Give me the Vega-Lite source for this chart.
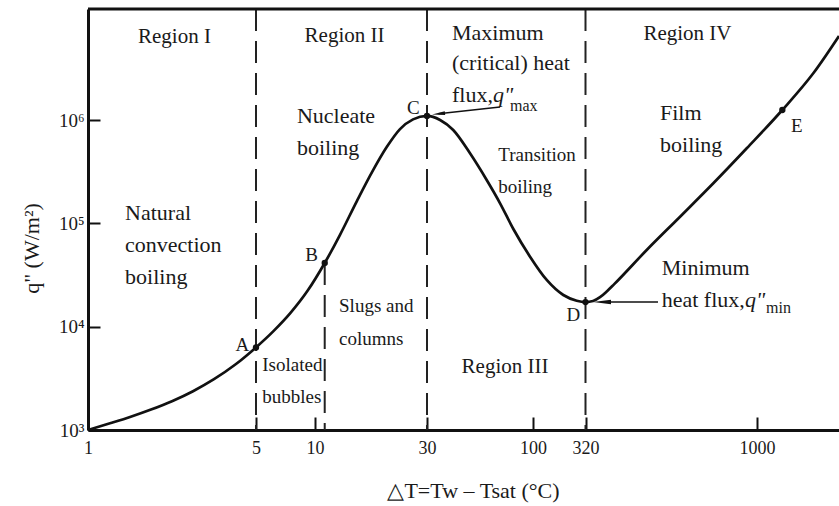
{
  "$schema": "https://vega.github.io/schema/vega-lite/v6.json",
  "width": 751,
  "height": 421,
  "autosize": {"type": "none"},
  "padding": {"left": 88, "top": 9, "right": 0, "bottom": 76},
  "background": "white",
  "config": {
    "view": {"stroke": null},
    "font": "Liberation Serif",
    "text": {"font": "Liberation Serif", "color": "#1a1a1a"}
  },
  "datasets": {
    "curve": [
      {"dT": 1, "q": 1000},
      {"dT": 1.235, "q": 1161},
      {"dT": 1.496, "q": 1336},
      {"dT": 1.829, "q": 1576},
      {"dT": 2.236, "q": 1900},
      {"dT": 2.735, "q": 2375},
      {"dT": 3.344, "q": 3101},
      {"dT": 4.089, "q": 4276},
      {"dT": 5, "q": 6300},
      {"dT": 6.12, "q": 9000},
      {"dT": 7.5, "q": 13590},
      {"dT": 9.18, "q": 22340},
      {"dT": 11, "q": 41300},
      {"dT": 12.78, "q": 77450},
      {"dT": 15.1, "q": 165300},
      {"dT": 17.66, "q": 325300},
      {"dT": 20.27, "q": 552800},
      {"dT": 23.02, "q": 816600},
      {"dT": 26.16, "q": 1013700},
      {"dT": 30, "q": 1094000},
      {"dT": 34.8, "q": 1000000},
      {"dT": 40.4, "q": 800000},
      {"dT": 48.9, "q": 476000},
      {"dT": 59.1, "q": 262600},
      {"dT": 68.8, "q": 156300},
      {"dT": 80.0, "q": 88130},
      {"dT": 96.7, "q": 47550},
      {"dT": 135.5, "q": 28300},
      {"dT": 195.7, "q": 20250},
      {"dT": 263.4, "q": 17840},
      {"dT": 320, "q": 17300},
      {"dT": 336.4, "q": 17720},
      {"dT": 352.4, "q": 19290},
      {"dT": 369.2, "q": 22040},
      {"dT": 386.7, "q": 25650},
      {"dT": 480.6, "q": 55210},
      {"dT": 599.8, "q": 115900},
      {"dT": 748.1, "q": 244100},
      {"dT": 934.1, "q": 532500},
      {"dT": 1199, "q": 1250000},
      {"dT": 1497, "q": 2831000},
      {"dT": 1800, "q": 6500000}
    ],
    "dashes": [
      {"dT": 5, "q": 11865000, "q2": 1000},
      {"dT": 11, "q": 41300, "q2": 1000},
      {"dT": 30, "q": 11865000, "q2": 1000},
      {"dT": 320, "q": 11865000, "q2": 1000}
    ],
    "frame": [{"dT": 1, "dT2": 1800, "q": 11865000}],
    "points": [
      {"dT": 5, "q": 6300},
      {"dT": 11, "q": 41300},
      {"dT": 30, "q": 1094000},
      {"dT": 320, "q": 17300},
      {"dT": 1199, "q": 1250000}
    ],
    "pointLabels": [
      {"dT": 4.385, "q": 6646, "label": "A"},
      {"dT": 9.62, "q": 49390, "label": "B"},
      {"dT": 26.24, "q": 1298000, "label": "C"},
      {"dT": 244.3, "q": 12970, "label": "D"},
      {"dT": 1329, "q": 875000, "label": "E"}
    ],
    "regions": [
      {"dT": 2.29, "q": 6360000, "label": "Region I"},
      {"dT": 13.36, "q": 6500000, "label": "Region II"},
      {"dT": 72.8, "q": 4071, "label": "Region III"},
      {"dT": 630, "q": 6800000, "label": "Region IV"}
    ],
    "bigText": [
      {"dT": 39.85, "q": 6950000, "label": "Maximum"},
      {"dT": 39.85, "q": 3560000, "label": "(critical) heat"},
      {"dT": 39.85, "q": 1746000, "label": "flux,"},
      {"dT": 8.09, "q": 1094000, "label": "Nucleate"},
      {"dT": 8.09, "q": 536000, "label": "boiling"},
      {"dT": 1.426, "q": 125900, "label": "Natural"},
      {"dT": 1.426, "q": 61700, "label": "convection"},
      {"dT": 1.426, "q": 30300, "label": "boiling"},
      {"dT": 525, "q": 1161000, "label": "Film"},
      {"dT": 525, "q": 573000, "label": "boiling"},
      {"dT": 531, "q": 36720, "label": "Minimum"},
      {"dT": 531, "q": 18120, "label": "heat flux,"}
    ],
    "smallText": [
      {"dT": 67.4, "q": 459000, "label": "Transition"},
      {"dT": 67.4, "q": 226000, "label": "boiling"},
      {"dT": 5.38, "q": 4256, "label": "Isolated"},
      {"dT": 5.38, "q": 2102, "label": "bubbles"},
      {"dT": 12.66, "q": 15960, "label": "Slugs and"},
      {"dT": 12.66, "q": 7599, "label": "columns"}
    ],
    "italicText": [
      {"dT": 63.5, "q": 1746000, "label": "q\""},
      {"dT": 923.5, "q": 18120, "label": "q\""}
    ],
    "subText": [
      {"dT": 77.0, "q": 1366000, "label": "max"},
      {"dT": 1067, "q": 15060, "label": "min"}
    ],
    "arrows": [
      {"dT": 68.8, "q": 1336000, "dT2": 34.19, "q2": 1148000},
      {"dT": 518, "q": 17300, "dT2": 357, "q2": 17300}
    ],
    "headC": [{"dT": 34.19, "q": 1148000}],
    "headD": [{"dT": 357.1, "q": 17300}]
  },
  "layer": [
    {
      "data": {"name": "curve"},
      "mark": {"type": "line", "interpolate": "monotone", "color": "#111", "strokeWidth": 2.7},
      "encoding": {
        "x": {
          "field": "dT", "type": "quantitative",
          "scale": {"type": "log", "domain": [1, 5, 10, 30, 100, 320, 1000, 1800], "range": [0, 168, 227, 339, 445, 497.5, 669, 751], "nice": false, "zero": false},
          "axis": {
            "values": [1, 5, 10, 30, 100, 320, 1000],
            "format": "d",
            "title": "△T=Tw – Tsat (°C)",
            "grid": false,
            "domainColor": "#111", "domainWidth": 3,
            "tickColor": "#111", "tickWidth": 2, "tickSize": -13,
            "labelPadding": 22,
            "labelFont": "Liberation Serif", "labelFontSize": 18, "labelColor": "#1a1a1a",
            "labelFlush": false, "labelOverlap": false,
            "titleFont": "Liberation Serif", "titleFontSize": 22, "titleFontWeight": "normal", "titleColor": "#1a1a1a",
            "titleX": 385, "titleY": 60, "titleBaseline": "middle", "titleAlign": "center"
          }
        },
        "y": {
          "field": "q", "type": "quantitative",
          "scale": {"type": "log", "domain": [1000, 11865000], "nice": false, "zero": false},
          "axis": {
            "values": [1000, 10000, 100000, 1000000],
            "labelExpr": "datum.value == 1000 ? '10³' : datum.value == 10000 ? '10⁴' : datum.value == 100000 ? '10⁵' : '10⁶'",
            "title": "q\" (W/m²)",
            "grid": false,
            "domainColor": "#111", "domainWidth": 3,
            "tickColor": "#111", "tickWidth": 2, "tickSize": -12,
            "labelPadding": 16,
            "labelFont": "Liberation Serif", "labelFontSize": 19, "labelColor": "#1a1a1a",
            "labelFlush": false, "labelOverlap": false,
            "titleFont": "Liberation Serif", "titleFontSize": 22, "titleFontWeight": "normal", "titleColor": "#1a1a1a",
            "titleX": -57, "titleY": 239, "titleAngle": 270, "titleBaseline": "middle", "titleAlign": "center"
          }
        }
      }
    },
    {
      "data": {"name": "dashes"},
      "mark": {"type": "rule", "strokeDash": [22, 10], "strokeWidth": 2, "color": "#222"},
      "encoding": {
        "x": {"field": "dT", "type": "quantitative"},
        "y": {"field": "q", "type": "quantitative"},
        "y2": {"field": "q2"}
      }
    },
    {
      "data": {"name": "frame"},
      "mark": {"type": "rule", "strokeWidth": 3, "color": "#111"},
      "encoding": {
        "x": {"field": "dT", "type": "quantitative"},
        "x2": {"field": "dT2"},
        "y": {"field": "q", "type": "quantitative"}
      }
    },
    {
      "data": {"name": "points"},
      "mark": {"type": "point", "filled": true, "size": 40, "color": "#111", "opacity": 1},
      "encoding": {
        "x": {"field": "dT", "type": "quantitative"},
        "y": {"field": "q", "type": "quantitative"}
      }
    },
    {
      "data": {"name": "pointLabels"},
      "mark": {"type": "text", "fontSize": 19, "align": "center", "baseline": "middle"},
      "encoding": {
        "x": {"field": "dT", "type": "quantitative"},
        "y": {"field": "q", "type": "quantitative"},
        "text": {"field": "label"}
      }
    },
    {
      "data": {"name": "regions"},
      "mark": {"type": "text", "fontSize": 21, "align": "center", "baseline": "middle"},
      "encoding": {
        "x": {"field": "dT", "type": "quantitative"},
        "y": {"field": "q", "type": "quantitative"},
        "text": {"field": "label"}
      }
    },
    {
      "data": {"name": "bigText"},
      "mark": {"type": "text", "fontSize": 22, "align": "left", "baseline": "middle"},
      "encoding": {
        "x": {"field": "dT", "type": "quantitative"},
        "y": {"field": "q", "type": "quantitative"},
        "text": {"field": "label"}
      }
    },
    {
      "data": {"name": "smallText"},
      "mark": {"type": "text", "fontSize": 19, "align": "left", "baseline": "middle"},
      "encoding": {
        "x": {"field": "dT", "type": "quantitative"},
        "y": {"field": "q", "type": "quantitative"},
        "text": {"field": "label"}
      }
    },
    {
      "data": {"name": "italicText"},
      "mark": {"type": "text", "fontSize": 22, "fontStyle": "italic", "align": "left", "baseline": "middle"},
      "encoding": {
        "x": {"field": "dT", "type": "quantitative"},
        "y": {"field": "q", "type": "quantitative"},
        "text": {"field": "label"}
      }
    },
    {
      "data": {"name": "subText"},
      "mark": {"type": "text", "fontSize": 16, "align": "left", "baseline": "middle"},
      "encoding": {
        "x": {"field": "dT", "type": "quantitative"},
        "y": {"field": "q", "type": "quantitative"},
        "text": {"field": "label"}
      }
    },
    {
      "data": {"name": "arrows"},
      "mark": {"type": "rule", "strokeWidth": 1.5, "color": "#111"},
      "encoding": {
        "x": {"field": "dT", "type": "quantitative"},
        "x2": {"field": "dT2"},
        "y": {"field": "q", "type": "quantitative"},
        "y2": {"field": "q2"}
      }
    },
    {
      "data": {"name": "headC"},
      "mark": {"type": "point", "shape": "M-1,0L1,-0.28L1,0.28Z", "filled": true, "size": 169, "angle": -6.3, "color": "#111", "opacity": 1},
      "encoding": {
        "x": {"field": "dT", "type": "quantitative"},
        "y": {"field": "q", "type": "quantitative"}
      }
    },
    {
      "data": {"name": "headD"},
      "mark": {"type": "point", "shape": "M-1,0L1,-0.25L1,0.25Z", "filled": true, "size": 324, "color": "#111", "opacity": 1},
      "encoding": {
        "x": {"field": "dT", "type": "quantitative"},
        "y": {"field": "q", "type": "quantitative"}
      }
    }
  ]
}
